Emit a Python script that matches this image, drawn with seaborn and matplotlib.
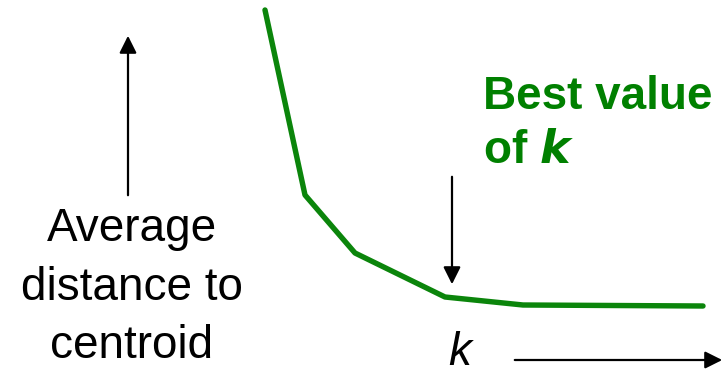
import matplotlib
matplotlib.use("Agg")
import matplotlib.pyplot as plt
import seaborn as sns
import pandas as pd

# elbow curve (k position, average distance)
k_pos = [265, 305, 355, 445, 523, 703]
avg_dist = [366, 181, 123, 79, 71, 70]

ylabel_text = "Average\ndistance to\ncentroid"
best_text = "Best value\nof $\\boldsymbol{k}$"

sns.set_style("white")
plt.rcParams["font.family"] = ["Liberation Sans", "DejaVu Sans"]
plt.rcParams["mathtext.fontset"] = "custom"
plt.rcParams["mathtext.it"] = "Liberation Sans:italic"
plt.rcParams["mathtext.bf"] = "Liberation Sans:bold:italic"

fig = plt.figure(figsize=(7.25, 3.76), dpi=100)
ax = fig.add_axes([0, 0, 1, 1])

df = pd.DataFrame({"k": k_pos, "dist": avg_dist})
sns.lineplot(data=df, x="k", y="dist", ax=ax, color="#0b850b",
             linewidth=3.9, solid_capstyle="round", solid_joinstyle="round")

ax.set_xlim(0, 725)
ax.set_ylim(0, 376)
ax.axis("off")

arrow = dict(arrowstyle="-|>", color="black", lw=1.6, mutation_scale=26)
ax.annotate("", xy=(128, 343), xytext=(128, 178), arrowprops=arrow)
ax.annotate("", xy=(452, 89), xytext=(452, 202), arrowprops=arrow)
ax.annotate("", xy=(725, 16), xytext=(512, 16), arrowprops=arrow)

ax.text(132, 18, ylabel_text, ha="center", va="baseline", fontsize=33,
        linespacing=1.42, color="black")
ax.text(483, 213, best_text, ha="left", va="baseline", fontsize=33,
        fontweight="bold", color="#008000", linespacing=1.28)
ax.text(448, 11, "k", ha="left", va="baseline", fontsize=33,
        fontstyle="italic", color="black")

fig.savefig("out.png", dpi=100)
